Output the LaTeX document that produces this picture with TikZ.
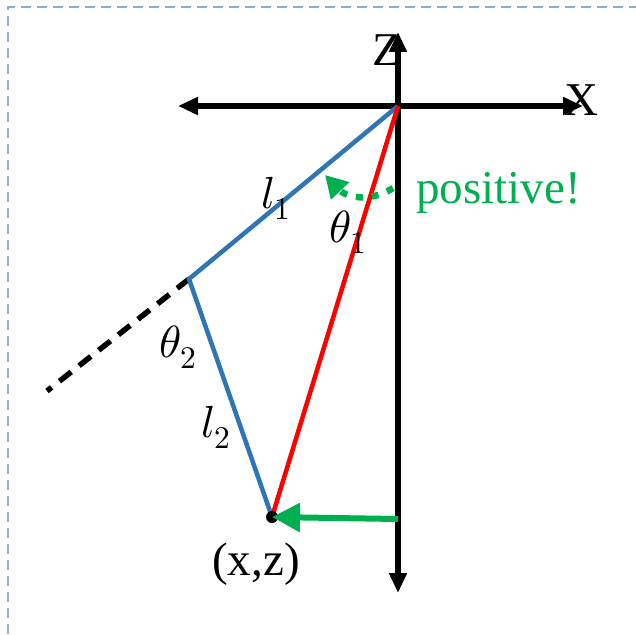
\documentclass[tikz,border=0pt]{standalone}
\usepackage{fontspec}
\setmainfont{Liberation Serif}
\usepackage{unicode-math}
\setmathfont{Latin Modern Math}
\usetikzlibrary{arrows.meta}

\definecolor{linkblue}{RGB}{46,117,182}
\definecolor{signgreen}{RGB}{0,176,80}
\definecolor{framegray}{RGB}{143,170,220}

\begin{document}
\begin{tikzpicture}[x=1pt,y=-1pt,
  axis/.style={line width=5.5pt,
    {Triangle[length=20pt,width=17pt]}-{Triangle[length=20pt,width=17pt]}},
  link/.style={line width=4.5pt, linkblue},
  mathlbl/.style={font=\fontsize{45}{48}\selectfont, inner sep=0pt},
  txtlbl/.style={font=\fontsize{47}{50}\selectfont, inner sep=0pt}]

\useasboundingbox (0,0) rectangle (636,634);

% Frame
\draw[framegray, line width=2.5pt, dash pattern=on 10pt off 6pt]
  (8,634) -- (8,7) -- (636,7);

% Points
\coordinate (O) at (398,106);
\coordinate (J) at (189,279);
\coordinate (P) at (272,517);
\coordinate (E) at (47,391);
\coordinate (G) at (398,519);

% Axes
\coordinate (xl) at (178,106);
\coordinate (xr) at (583,106);
\coordinate (zt) at (398,32);
\coordinate (zb) at (398,593);
\draw[axis] (xl) -- (xr);
\draw[axis] (zb) -- (zt);
\node[txtlbl, anchor=base west] (zlbl) at (372,65) {Z};
\node[txtlbl, anchor=base west] (xlbl) at (564,115) {X};

% Links
\draw[line width=5.5pt, dash pattern=on 15pt off 10pt] (J) -- (E);
\draw[link] (O) -- (J) -- (P);
\draw[red, line width=4.5pt] (O) -- (P);
\fill (P) circle (6pt);

% Target
\draw[signgreen, line width=6pt, -{Triangle[length=28pt,width=28pt]}]
  (G) -- (P);
\node[txtlbl, anchor=base] (plbl) at (256,575) {(x,z)};

% Sign of theta1
\coordinate (S) at (393,188);
\coordinate (T) at (325,175);
\draw[signgreen, line width=6.5pt, dash pattern=on 7pt off 9pt,
  -{Triangle[length=22pt,width=24pt]}]
  (S) .. controls (368,204) and (345,196) .. (T);
\node[txtlbl, signgreen, anchor=base west] (pos) at (416,203) {positive!};

% Labels
\node[mathlbl, anchor=base west] (l1) at (261,208) {$l_1$};
\node[mathlbl, anchor=base west] (t1) at (329,242) {$\theta_1$};
\node[mathlbl, anchor=base west] (t2) at (159,357) {$\theta_2$};
\node[mathlbl, anchor=base west] (l2) at (201,437) {$l_2$};

\end{tikzpicture}
\end{document}
